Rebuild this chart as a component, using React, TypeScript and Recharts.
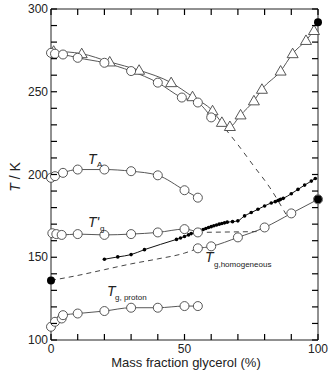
import React from "react";
import {
  ComposedChart,
  Line,
  Scatter,
  XAxis,
  YAxis,
} from "recharts";

// melting curve, circles
const meltCircleX = [0, 1.5, 4.5, 10, 20, 30, 40, 49, 55, 60];
const meltCircleT = [273.5, 273, 272.5, 270.5, 267.5, 262.5, 255.5, 246.5, 243.5, 234.5];

// melting / eutectic curve, triangles
const meltTriX = [1, 11.5, 22, 33, 45, 53, 60.5, 64, 67, 71, 76, 79, 86, 90.5, 95.5, 98.5];
const meltTriT = [274.5, 273, 268, 263, 255.5, 247, 238.5, 231.5, 229, 236, 244.5, 251.5, 262.5, 273, 281, 287];

// dashed extension of the melting curve
const meltDashX = [63, 70, 76, 82, 88];
const meltDashT = [232, 218, 205, 192, 176];

const taX = [0, 1.5, 4.5, 10, 20, 30, 40, 50, 55];
const taT = [198, 199, 201, 203, 203, 202, 199.5, 190.5, 186];

const tgPrimeX = [0.5, 2, 4, 10, 20, 30, 40, 50, 55];
const tgPrimeT = [164.5, 164, 163.5, 164, 163.5, 164, 165, 167, 165];
const tgPrimeDashX = [55, 77];
const tgPrimeDashT = [165, 165.5];

// small filled dots (Tg)
const tgDotX = [20, 25, 30, 35, 47, 48.5, 50, 51.5, 52.5, 54, 55, 56, 57, 58, 59, 60, 61, 62, 63, 64, 65, 66, 68, 70, 72.5, 75, 77.5, 80, 82.5, 84, 85, 85.5, 86, 87, 90, 92.5, 95, 97.5, 99];
const tgDotT = [148.8, 150.2, 151.6, 154.6, 160.8, 161.6, 162.5, 163.5, 164.3, 165, 165.7, 166.3, 166.8, 167.4, 168, 168.5, 169, 169.5, 170, 170.4, 170.8, 171.2, 171.5, 172, 175, 177, 179, 181, 182.8, 183.6, 184.3, 184.6, 185, 185.6, 188.4, 191, 193.6, 196, 197.6];

// Tg homogeneous
const tgHomDashX = [0, 10, 20, 30, 40, 50, 55];
const tgHomDashT = [136, 139, 142.5, 146, 149, 152.5, 155.4];
const tgHomX = [55, 60, 70, 80, 90, 100];
const tgHomT = [155.4, 156.6, 162, 168, 176.5, 185];

const tgProtonX = [0, 1.5, 4, 4.5, 10, 20, 30, 40, 50, 55];
const tgProtonT = [108, 111, 113, 115, 116, 117.5, 119.5, 119.5, 120.5, 120.5];

// filled end markers
const filledX = [0, 100, 100];
const filledT = [136, 185, 292];

const xTicks = [0, 10, 20, 30, 40, 50, 60, 70, 80, 90, 100];
const yTicks = [100, 110, 120, 130, 140, 150, 160, 170, 180, 190, 200, 210, 220, 230, 240, 250, 260, 270, 280, 290, 300];

const zip = (xs: number[], ts: number[]) => xs.map((x, i) => ({ x, t: ts[i] }));

const FONT = "'Liberation Sans', Arial, sans-serif";
const INK = "#222";
const LINE = "#444";
const TICK_INK = "#000";
const TICK = 6;

const circle = { r: 4.5, fill: "#fff", stroke: LINE, strokeWidth: 0.9 };
const smallDot = { r: 1.8, fill: "#000", stroke: "#000", strokeWidth: 0 };

const Triangle = (props: any) => {
  const { cx, cy } = props;
  if (cx == null || cy == null) return <g />;
  const pts = `${cx},${cy - 5.5} ${cx - 5.5},${cy + 4} ${cx + 5.5},${cy + 4}`;
  return <polygon points={pts} fill="#fff" stroke={LINE} strokeWidth={0.9} />;
};

const FilledDot = (props: any) => {
  const { cx, cy } = props;
  if (cx == null || cy == null) return <g />;
  return <circle cx={cx} cy={cy} r={4} fill="#000" />;
};

// ticks point inward; labels only every 50
const BottomTick = (props: any) => {
  const { x, y, payload } = props;
  return (
    <g>
      <line x1={x} y1={y} x2={x} y2={y - TICK} stroke={TICK_INK} strokeWidth={1.2} />
      {payload.value % 50 === 0 && (
        <text x={x} y={y + 13} textAnchor="middle" fontSize={12} fill={INK} fontFamily={FONT}>
          {payload.value}
        </text>
      )}
    </g>
  );
};

const TopTick = (props: any) => {
  const { x, y } = props;
  return <line x1={x} y1={y} x2={x} y2={y + TICK} stroke={TICK_INK} strokeWidth={1.2} />;
};

const LeftTick = (props: any) => {
  const { x, y, payload } = props;
  return (
    <g>
      <line x1={x} y1={y} x2={x + TICK} y2={y} stroke={TICK_INK} strokeWidth={1.2} />
      {payload.value % 50 === 0 && (
        <text x={x - 3} y={y + 4} textAnchor="end" fontSize={12} fill={INK} fontFamily={FONT}>
          {payload.value}
        </text>
      )}
    </g>
  );
};

const RightTick = (props: any) => {
  const { x, y } = props;
  return <line x1={x} y1={y} x2={x - TICK} y2={y} stroke={TICK_INK} strokeWidth={1.2} />;
};

export default function App() {
  return (
    <div style={{ position: "absolute", left: 0, top: 0, width: 330, height: 370, background: "#fff" }}>
      <ComposedChart width={330} height={370} margin={{ top: 8, right: 11, bottom: 0, left: 11 }}>
        <XAxis
          type="number"
          dataKey="x"
          domain={[0, 100]}
          ticks={xTicks}
          tickLine={false}
          tickSize={0}
          tickMargin={0}
          height={30}
          stroke={INK}
          tick={<BottomTick />}
          interval={0}
        />
        <XAxis
          xAxisId="top"
          orientation="top"
          type="number"
          dataKey="x"
          domain={[0, 100]}
          ticks={xTicks}
          tickLine={false}
          tickSize={0}
          tickMargin={0}
          height={1}
          stroke={INK}
          tick={<TopTick />}
          interval={0}
        />
        <YAxis
          type="number"
          dataKey="t"
          domain={[100, 300]}
          ticks={yTicks}
          tickLine={false}
          tickSize={0}
          tickMargin={0}
          width={40}
          stroke={INK}
          tick={<LeftTick />}
          interval={0}
        />
        <YAxis
          yAxisId="right"
          orientation="right"
          type="number"
          dataKey="t"
          domain={[100, 300]}
          ticks={yTicks}
          tickLine={false}
          tickSize={0}
          tickMargin={0}
          width={1}
          stroke={INK}
          tick={<RightTick />}
          interval={0}
        />

        {/* invisible copy so the top / right frame axes get their ticks */}
        <Line xAxisId="top" yAxisId="right" data={zip(meltTriX, meltTriT)} dataKey="t" stroke="none" dot={false} legendType="none" isAnimationActive={false} />

        <Line data={zip(meltDashX, meltDashT)} dataKey="t" type="monotone" stroke={LINE} strokeWidth={1} strokeDasharray="5 5" dot={false} isAnimationActive={false} />
        <Line data={zip(tgPrimeDashX, tgPrimeDashT)} dataKey="t" type="linear" stroke={LINE} strokeWidth={1} strokeDasharray="5 4" dot={false} isAnimationActive={false} />
        <Line data={zip(tgHomDashX, tgHomDashT)} dataKey="t" type="monotone" stroke={LINE} strokeWidth={1} strokeDasharray="5 4" dot={false} isAnimationActive={false} />

        <Line data={zip(tgDotX, tgDotT)} dataKey="t" type="monotone" stroke="#111" strokeWidth={1} dot={smallDot} isAnimationActive={false} />
        <Line data={zip(meltTriX, meltTriT)} dataKey="t" type="monotone" stroke={LINE} strokeWidth={0.9} dot={<Triangle />} isAnimationActive={false} />
        <Line data={zip(meltCircleX, meltCircleT)} dataKey="t" type="monotone" stroke={LINE} strokeWidth={0.9} dot={circle} isAnimationActive={false} />
        <Line data={zip(taX, taT)} dataKey="t" type="monotone" stroke={LINE} strokeWidth={0.9} dot={circle} isAnimationActive={false} />
        <Line data={zip(tgPrimeX, tgPrimeT)} dataKey="t" type="monotone" stroke={LINE} strokeWidth={0.9} dot={circle} isAnimationActive={false} />
        <Line data={zip(tgHomX, tgHomT)} dataKey="t" type="monotone" stroke={LINE} strokeWidth={0.9} dot={circle} isAnimationActive={false} />
        <Line data={zip(tgProtonX, tgProtonT)} dataKey="t" type="monotone" stroke={LINE} strokeWidth={0.9} dot={circle} isAnimationActive={false} />

        <Scatter data={zip(filledX, filledT)} dataKey="t" fill="#000" shape={<FilledDot />} isAnimationActive={false} />
      </ComposedChart>

      <svg width={330} height={370} style={{ position: "absolute", left: 0, top: 0, pointerEvents: "none" }} fontFamily={FONT} fill={INK}>
        <text x={88} y={164} fontSize={14} fontStyle="italic">T</text>
        <text x={97} y={167} fontSize={8}>A</text>

        <text x={88} y={227} fontSize={14} fontStyle="italic">T'</text>
        <text x={100} y={231} fontSize={8}>g</text>

        <text x={107} y={296} fontSize={14} fontStyle="italic">T</text>
        <text x={115} y={300} fontSize={8}>g, proton</text>

        <text x={205} y={262} fontSize={14} fontStyle="italic">T</text>
        <text x={214} y={267} fontSize={8}>g,homogeneous</text>

        <text x={186} y={367} fontSize={13} textAnchor="middle">Mass fraction glycerol (%)</text>
        <text transform="translate(20,177) rotate(-90)" fontSize={14} textAnchor="middle">
          <tspan fontStyle="italic">T</tspan> / K
        </text>
      </svg>
    </div>
  );
}
